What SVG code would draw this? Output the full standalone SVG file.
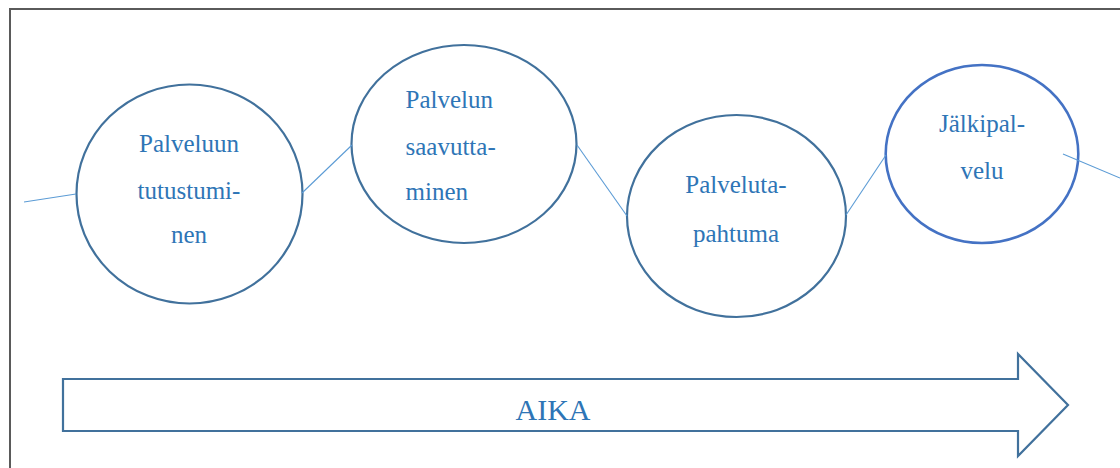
<svg xmlns="http://www.w3.org/2000/svg" width="1120" height="468" viewBox="0 0 1120 468">
  <style>
    .frame { fill: none; stroke: #5a5a5a; stroke-width: 2; }
    .phase { fill: #ffffff; stroke: #41719c; stroke-width: 2.2; }
    .phase.last { stroke: #4472c4; stroke-width: 2.6; }
    .link { fill: none; stroke: #5b9bd5; stroke-width: 1.1; }
    .label { font-family: "Liberation Serif", "DejaVu Serif", serif; font-size: 25px; fill: #2e75b6; }
    .mid { text-anchor: middle; }
    .time { fill: #ffffff; stroke: #41719c; stroke-width: 2.2; stroke-linejoin: miter; }
    .timelabel { font-family: "Liberation Serif", "DejaVu Serif", serif; font-size: 30px; fill: #2e75b6; text-anchor: middle; }
  </style>

  <rect width="1120" height="468" fill="#ffffff"/>

  <!-- surrounding frame, open to the right and bottom -->
  <rect class="frame" x="10" y="9" width="1130" height="480"/>

  <g id="tutustuminen">
    <ellipse class="phase" cx="189.5" cy="194" rx="113" ry="109.5"/>
    <text class="label mid" x="189" y="152">Palveluun</text>
    <text class="label mid" x="189" y="199">tutustumi-</text>
    <text class="label mid" x="189" y="243">nen</text>
  </g>

  <g id="saavuttaminen">
    <ellipse class="phase" cx="464" cy="144" rx="112.5" ry="99"/>
    <text class="label" x="405.5" y="108">Palvelun</text>
    <text class="label" x="405.5" y="155">saavutta-</text>
    <text class="label" x="405.5" y="200">minen</text>
  </g>

  <g id="palvelutapahtuma">
    <ellipse class="phase" cx="736.5" cy="216" rx="109.5" ry="101"/>
    <text class="label mid" x="736" y="193">Palveluta-</text>
    <text class="label mid" x="736" y="242">pahtuma</text>
  </g>

  <g id="jalkipalvelu">
    <ellipse class="phase last" cx="982" cy="154" rx="96.3" ry="89"/>
    <text class="label mid" x="982" y="132">Jälkipal-</text>
    <text class="label mid" x="982" y="179">velu</text>
  </g>

  <g id="aika">
    <path class="time" d="M63,379 H1018 V354 L1068,405 L1018,456 V431 H63 Z"/>
    <text class="timelabel" x="553" y="420">AIKA</text>
  </g>

  <!-- thin links between the phases -->
  <g id="connectors">
    <line class="link" x1="24" y1="202" x2="76" y2="194"/>
    <line class="link" x1="302" y1="193" x2="352" y2="145"/>
    <line class="link" x1="577" y1="145" x2="627" y2="216"/>
    <line class="link" x1="846" y1="215" x2="886" y2="155"/>
    <line class="link" x1="1063" y1="154" x2="1120" y2="178"/>
  </g>
</svg>
